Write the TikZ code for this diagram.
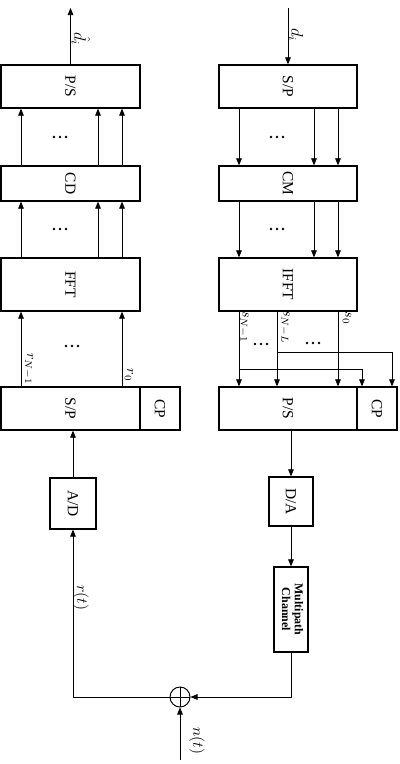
\documentclass[tikz,border=0pt]{standalone}
\usepackage{fontspec}
\setmainfont{Liberation Serif}
\usepackage{amsmath}
\usetikzlibrary{calc, positioning, arrows.meta}

\tikzset{
  blk/.style={draw, line width=0.9pt, inner sep=0pt, font=\fontsize{11}{13}\selectfont},
  arr/.style={-{Triangle[length=5pt,width=4pt]}, line width=0.5pt},
  lbl/.style={rotate=-90, inner sep=1pt, font=\fontsize{11}{13}\selectfont},
  sig/.style={rotate=-90, inner sep=1pt},
  ellip/.pic={\foreach \k in {-6,0,6} \fill (\k,0) circle (1.4);},
}
\newcommand{\rt}[1]{\rotatebox{-90}{#1}}

\begin{document}
\begin{tikzpicture}[x=0.25mm, y=-0.25mm]
\useasboundingbox (0,0) rectangle (400,764);

% Receiver column (left)
\node[blk, minimum width=34.75mm, minimum height=10.75mm] (rps) at (70.5,86.5) {\rt{P/S}};
\node[blk, minimum width=34.75mm, minimum height=8.75mm] (cd) at (70.5,183.5) {\rt{CD}};
\node[blk, minimum width=34.75mm, minimum height=13.25mm] (fft) at (70.5,284.5) {\rt{FFT}};
\node[blk, minimum width=34.75mm, minimum height=10.75mm] (rsp) at (70.5,408.5) {\rt{S/P}};
\node[blk, minimum width=10mm, minimum height=10.75mm] (rcp) at (160,408.5) {\rt{CP}};
\node[blk, minimum width=11.5mm, minimum height=12.75mm] (ad) at (73,503.5) {\rt{A/D}};

% Transmitter column (right)
\node[blk, minimum width=34.5mm, minimum height=10.75mm] (tsp) at (288,86.5) {\rt{S/P}};
\node[blk, minimum width=34.5mm, minimum height=8.75mm] (cm) at (288,183.5) {\rt{CM}};
\node[blk, minimum width=34.5mm, minimum height=13.25mm] (ifft) at (288,284.5) {\rt{IFFT}};
\node[blk, minimum width=34.5mm, minimum height=10.75mm] (tps) at (288,408.5) {\rt{P/S}};
\node[blk, minimum width=10mm, minimum height=10.75mm] (tcp) at (377,408.5) {\rt{CP}};
\node[blk, minimum width=11mm, minimum height=12.25mm] (da) at (291,501.5) {\rt{D/A}};
\node[blk, minimum width=8.5mm, minimum height=21.25mm, font=\fontsize{8.5}{9}\selectfont\bfseries] (ch) at (291,609.5)
  {\rt{\begin{tabular}{@{}c@{}}Multipath\\Channel\end{tabular}}};

% Adder
\node[draw, circle, line width=0.7pt, minimum size=5mm, inner sep=0pt,
  path picture={\draw[line width=0.7pt] (path picture bounding box.north) -- (path picture bounding box.south)
    (path picture bounding box.west) -- (path picture bounding box.east);}] (add) at (180,697) {};

% Lanes and free ends
\coordinate (ra) at (21,0);
\coordinate (rb) at (98,0);
\coordinate (rc) at (122,0);
\coordinate (ta) at (239,0);
\coordinate (tl) at (277,0);
\coordinate (tb) at (314,0);
\coordinate (tc) at (338,0);
\coordinate (ca) at (362,0);
\coordinate (cb) at (392,0);
\coordinate (ja) at (239,369);
\coordinate (jl) at (277,352);
\coordinate (dout) at (70.5,8);
\coordinate (din) at (288,8);
\coordinate (nin) at (180,760);

% Receiver connections
\foreach \ln in {ra,rb,rc} {
  \draw[arr] (cd.north -| \ln) -- (rps.south -| \ln);
  \draw[arr] (fft.north -| \ln) -- (cd.south -| \ln);
}
\foreach \ln in {ra,rc}
  \draw[arr] (rsp.north -| \ln) -- (fft.south -| \ln);
\draw[arr] (ad.north) -- (rsp.south -| ad);
\draw[arr] (rps.north) -- (dout);

% Transmitter connections
\draw[arr] (din) -- (tsp.north);
\foreach \ln in {ta,tb,tc} {
  \draw[arr] (tsp.south -| \ln) -- (cm.north -| \ln);
  \draw[arr] (cm.south -| \ln) -- (ifft.north -| \ln);
}
\foreach \ln in {ta,tl,tc}
  \draw[arr] (ifft.south -| \ln) -- (tps.north -| \ln);
\draw[arr] (ja) -| (tcp.north -| ca);
\draw[arr] (jl) -| (tcp.north -| cb);
\draw[arr] (tps.south -| da) -- (da.north);
\draw[arr] (da.south) -- (ch.north);

% Channel and noise
\draw[arr] (ch.south) |- (add.east);
\draw[arr] (add.west) -| (ad.south);
\draw[arr] (nin) -- (add.south);

% Dots
\pic at (60,137) {ellip};
\pic at (60,229) {ellip};
\pic at (72,346) {ellip};
\pic at (277,137) {ellip};
\pic at (277,229) {ellip};
\pic at (261,344) {ellip};
\pic at (313,343) {ellip};

% Signal labels
\node[lbl, font=\large] (lo) at (81,39) {$\hat{d}_i$};
\node[lbl, font=\large] (li) at (296,35) {$d_i$};
\node[sig] (lr1) at (28.5,369) {$r_{N-1}$};
\node[sig] (lr0) at (129,375) {$r_0$};
\node[sig] (ls1) at (244,327) {$s_{N-1}$};
\node[sig] (lsl) at (285,327) {$s_{N-L}$};
\node[sig] (ls0) at (347,318) {$s_0$};
\node[lbl] (lrt) at (81,598) {$r(t)$};
\node[lbl] (lnt) at (197,741) {$n(t)$};
\end{tikzpicture}
\end{document}
